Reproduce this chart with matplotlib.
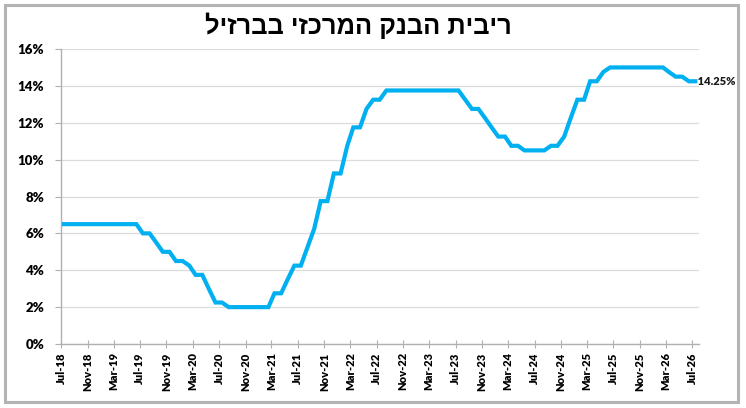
import numpy as np
import pandas as pd
import matplotlib
matplotlib.use('Agg')
import matplotlib.pyplot as plt
import matplotlib.dates as mdates
from matplotlib.patches import Rectangle
from matplotlib.ticker import FuncFormatter

# Selic rate, one value per month, Jul-18 .. Jul-26
months = pd.date_range('2018-07-01', '2026-07-01', freq='MS')
rate = [
    6.5, 6.5, 6.5, 6.5, 6.5, 6.5,            # Jul-18 .. Dec-18
    6.5, 6.5, 6.5, 6.5, 6.5, 6.5,            # Jan-19 .. Jun-19
    6.0, 6.0, 5.5, 5.0, 5.0, 4.5,            # Jul-19 .. Dec-19
    4.5, 4.25, 3.75, 3.75, 3.0, 2.25,        # Jan-20 .. Jun-20
    2.25, 2.0, 2.0, 2.0, 2.0, 2.0,           # Jul-20 .. Dec-20
    2.0, 2.0, 2.75, 2.75, 3.5, 4.25,         # Jan-21 .. Jun-21
    4.25, 5.25, 6.25, 7.75, 7.75, 9.25,      # Jul-21 .. Dec-21
    9.25, 10.75, 11.75, 11.75, 12.75, 13.25, # Jan-22 .. Jun-22
    13.25, 13.75, 13.75, 13.75, 13.75, 13.75,  # Jul-22 .. Dec-22
    13.75, 13.75, 13.75, 13.75, 13.75, 13.75,  # Jan-23 .. Jun-23
    13.75, 13.25, 12.75, 12.75, 12.25, 11.75,  # Jul-23 .. Dec-23
    11.25, 11.25, 10.75, 10.75, 10.5, 10.5,    # Jan-24 .. Jun-24
    10.5, 10.5, 10.75, 10.75, 11.25, 12.25,    # Jul-24 .. Dec-24
    13.25, 13.25, 14.25, 14.25, 14.75, 15.0,   # Jan-25 .. Jun-25
    15.0, 15.0, 15.0, 15.0, 15.0, 15.0,        # Jul-25 .. Dec-25
    15.0, 15.0, 14.75, 14.5, 14.5, 14.25,      # Jan-26 .. Jun-26
    14.25,                                     # Jul-26
]
last_label = '14.25%'
title = 'ריבית הבנק המרכזי בברזיל'

# points sit mid-month on the date axis
dates = months + pd.Timedelta(days=14)

fig = plt.figure(figsize=(7.46, 4.08), dpi=100)
ax = fig.add_axes([61/746, 1-344/408, 638/746, 295/408])

ax.plot(dates, rate, color='#00B0F0', lw=3.0, solid_joinstyle='miter', zorder=3)
ax.text(dates[-1], rate[-1], ' ' + last_label, fontsize=8, fontweight='heavy',
        family='Lato', va='center', ha='left', color='#1a1a1a', clip_on=False)

ax.set_xlim(pd.Timestamp('2018-07-01'), pd.Timestamp('2026-08-01'))
ax.set_ylim(0, 16)
ax.set_yticks(np.arange(0, 17, 2))
ax.yaxis.set_major_formatter(FuncFormatter(lambda v, p: f'{v:.0f}%'))
ax.xaxis.set_major_locator(mdates.MonthLocator(bymonth=[3, 7, 11]))
ax.xaxis.set_major_formatter(mdates.DateFormatter('%b-%y'))

ax.grid(axis='y', color='#dcdcdc', lw=0.9)
ax.set_axisbelow(True)
for s in ['top', 'right']:
    ax.spines[s].set_visible(False)
for s in ['left', 'bottom']:
    ax.spines[s].set_color('#b0b0b0')
    ax.spines[s].set_linewidth(1.0)

ax.tick_params(axis='y', length=4, color='#b0b0b0', pad=8)
ax.tick_params(axis='x', direction='inout', length=6, color='#b0b0b0', pad=3)
for lab in ax.get_yticklabels():
    lab.set_family('Lato')
    lab.set_fontweight('heavy')
    lab.set_fontsize(9.5)
for lab in ax.get_xticklabels():
    lab.set_family('Lato')
    lab.set_fontweight('heavy')
    lab.set_fontsize(8)
    lab.set_rotation(90)

# hebrew has to be reversed, matplotlib draws left to right
fig.text(358/746, 1-26/408, title[::-1], family='Liberation Sans', fontweight='bold',
         fontsize=18.4, ha='center', va='center')

fig.patches.append(Rectangle((5.3/746, 1-402.3/408), 732.7/746, 397/408,
                             transform=fig.transFigure, fill=False,
                             edgecolor='#b4b4b4', lw=2.2))

fig.savefig('out.png', dpi=100)
